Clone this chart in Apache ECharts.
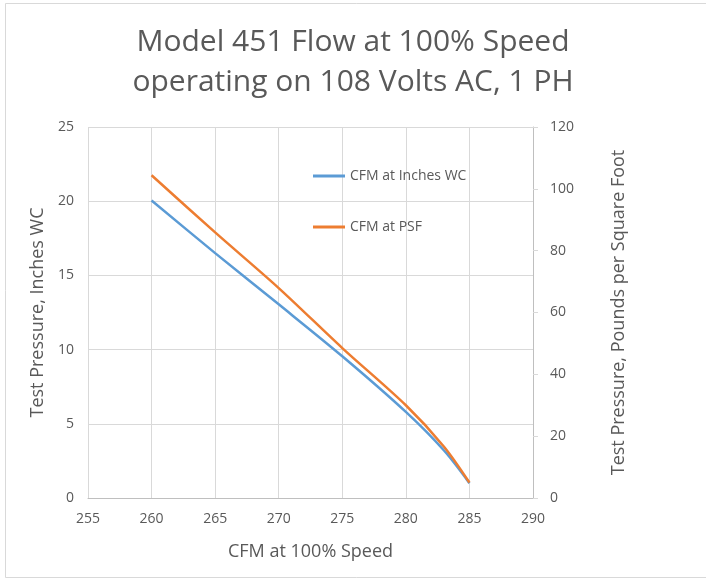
<!DOCTYPE html>
<html>
<head>
<meta charset="utf-8">
<script src="https://cdn.jsdelivr.net/npm/echarts@6/dist/echarts.min.js"></script>
<style>
  html, body { margin: 0; padding: 0; background: #fff; }
  #chart { width: 706px; height: 581px; }
</style>
</head>
<body>
<div id="chart"></div>
<script>
// CFM at 100% speed
const cfm = [260, 265, 270, 275, 280, 283, 285];
// left axis, inches of water column
const inchesWC = [20.05, 16.5, 13.05, 9.55, 5.8, 3.2, 1.0];
// right axis, pounds per square foot
const psf = [104.4, 85.9, 67.9, 48.5, 30.0, 16.6, 5.0];

const grey = '#595959';
const chart = echarts.init(document.getElementById('chart'));

const toPairs = (xs, ys) => xs.map((x, i) => [x, ys[i]]);

const option = {
  animation: false,
  backgroundColor: '#fff',
  title: {
    text: 'Model 451 Flow at 100% Speed\noperating on 108 Volts AC, 1 PH',
    left: 'center',
    top: 17,
    textStyle: {
      fontFamily: 'Open Sans',
      fontWeight: 'normal',
      fontSize: 30,
      lineHeight: 40,
      color: grey
    }
  },
  legend: {
    orient: 'vertical',
    left: 308,
    top: 164,
    itemGap: 37,
    itemWidth: 32,
    itemHeight: 3,
    icon: 'rect',
    textStyle: { fontFamily: 'Open Sans', fontSize: 14, color: grey },
    data: ['CFM at Inches WC', 'CFM at PSF']
  },
  grid: { left: 88, right: 173, top: 127, bottom: 83 },
  xAxis: {
    type: 'value',
    min: 255,
    max: 290,
    interval: 5,
    name: 'CFM at 100% Speed',
    nameLocation: 'middle',
    nameGap: 45,
    nameTextStyle: { fontFamily: 'Open Sans', fontSize: 18, color: grey },
    axisLine: { show: true, lineStyle: { color: '#bfbfbf' } },
    axisTick: { show: false },
    axisLabel: { fontFamily: 'Open Sans', fontSize: 14, color: grey, margin: 14 },
    splitLine: { show: true, lineStyle: { color: '#d9d9d9' } }
  },
  yAxis: [
    {
      type: 'value',
      min: 0,
      max: 25,
      interval: 5,
      name: 'Test Pressure, Inches WC',
      nameLocation: 'middle',
      nameGap: 38,
      nameTextStyle: { fontFamily: 'Open Sans', fontSize: 18, color: grey },
      axisLine: { show: false },
      axisTick: { show: false },
      axisLabel: { fontFamily: 'Open Sans', fontSize: 14, color: grey, margin: 14 },
      splitLine: { show: true, lineStyle: { color: '#d9d9d9' } }
    },
    {
      type: 'value',
      min: 0,
      max: 120,
      interval: 20,
      position: 'right',
      name: 'Test Pressure, Pounds per Square Foot',
      nameLocation: 'middle',
      nameGap: 77,
      nameRotate: 90,
      nameTextStyle: { fontFamily: 'Open Sans', fontSize: 18, color: grey },
      axisLine: { show: true, lineStyle: { color: '#bfbfbf' } },
      axisTick: { show: true, length: 5, lineStyle: { color: '#d9d9d9' } },
      axisLabel: { fontFamily: 'Open Sans', fontSize: 14, color: grey, margin: 17 },
      splitLine: { show: false }
    }
  ],
  series: [
    {
      name: 'CFM at Inches WC',
      type: 'line',
      yAxisIndex: 0,
      smooth: 0.3,
      showSymbol: false,
      symbol: 'none',
      lineStyle: { width: 2.5, color: '#5b9bd5' },
      itemStyle: { color: '#5b9bd5' },
      data: toPairs(cfm, inchesWC)
    },
    {
      name: 'CFM at PSF',
      type: 'line',
      yAxisIndex: 1,
      smooth: 0.3,
      showSymbol: false,
      symbol: 'none',
      lineStyle: { width: 2.5, color: '#ed7d31' },
      itemStyle: { color: '#ed7d31' },
      data: toPairs(cfm, psf)
    }
  ],
  graphic: [
    {
      type: 'rect',
      shape: { x: 5.5, y: 3.5, width: 720, height: 574 },
      style: { fill: 'none', stroke: '#d9d9d9', lineWidth: 1 },
      silent: true
    }
  ]
};

chart.setOption(option);
</script>
</body>
</html>
